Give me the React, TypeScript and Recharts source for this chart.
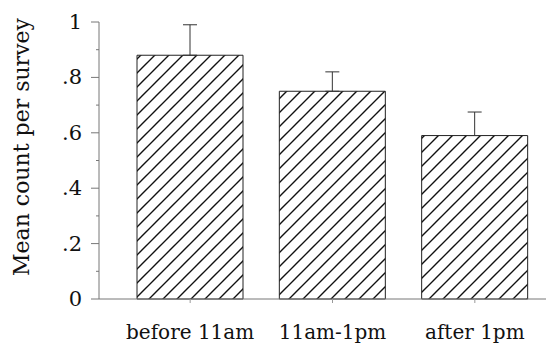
import { BarChart, Bar, XAxis, YAxis, ErrorBar } from "recharts";

const periods = ["before 11am", "11am-1pm", "after 1pm"];
const meanCounts = [0.88, 0.75, 0.59];
const upperErrors = [0.11, 0.07, 0.085];
const yTicks = [0, 0.1, 0.2, 0.3, 0.4, 0.5, 0.6, 0.7, 0.8, 0.9, 1];

const data = periods.map((p, i) => ({
  period: p,
  mean: meanCounts[i],
  err: [0, upperErrors[i]],
}));

const FONT = "'DejaVu Serif', serif";

const fmt = (v: number) => (v === 0 ? "0" : v === 1 ? "1" : v.toFixed(1).replace(/^0/, ""));

function YTick(props: any) {
  const { x, y, payload } = props;
  const v = Math.round(payload.value * 10);
  const major = v % 2 === 0;
  return (
    <g>
      <line x1={x + 8 - (major ? 8 : 3)} x2={x + 8} y1={y} y2={y} stroke="#777" strokeWidth={1} />
      {major && (
        <text x={x - 9} y={y} dy={7} textAnchor="end" fontFamily={FONT} fontSize={21} fill="#111">
          {fmt(payload.value)}
        </text>
      )}
    </g>
  );
}

const YLabel = () => (
  <text
    x={29}
    y={147}
    transform="rotate(-90, 29, 147)"
    textAnchor="middle"
    fontFamily={FONT}
    fontSize={22}
    fill="#111"
  >
    Mean count per survey
  </text>
);

export default function App() {
  return (
    <div style={{ position: "absolute", left: 0, top: 0, background: "#fff" }}>
      <BarChart width={546} height={347} data={data} margin={{ top: 22, right: 0, bottom: 0, left: 0 }}>
        <defs>
          <pattern id="hatch" patternUnits="userSpaceOnUse" width={14} height={14}>
            <path d="M0,14 L14,0 M-3.5,3.5 L3.5,-3.5 M10.5,17.5 L17.5,10.5" stroke="#111" strokeWidth={1.4} />
          </pattern>
        </defs>
        <XAxis
          dataKey="period"
          height={48}
          padding={{ left: 20, right: 0 }}
          axisLine={{ stroke: "#777" }}
          tickLine={{ stroke: "#999" }}
          tickSize={4}
          tick={{ fontFamily: FONT, fontSize: 20, fill: "#111", dy: 20 }}
        />
        <YAxis
          width={99}
          domain={[0, 1]}
          ticks={yTicks}
          interval={0}
          tickLine={false}
          axisLine={{ stroke: "#777" }}
          tick={<YTick />}
          label={<YLabel />}
        />
        <Bar dataKey="mean" fill="url(#hatch)" stroke="#222" strokeWidth={1} barSize={106} isAnimationActive={false}>
          <ErrorBar dataKey="err" width={7} stroke="#333" strokeWidth={1} direction="y" />
        </Bar>
      </BarChart>
    </div>
  );
}
